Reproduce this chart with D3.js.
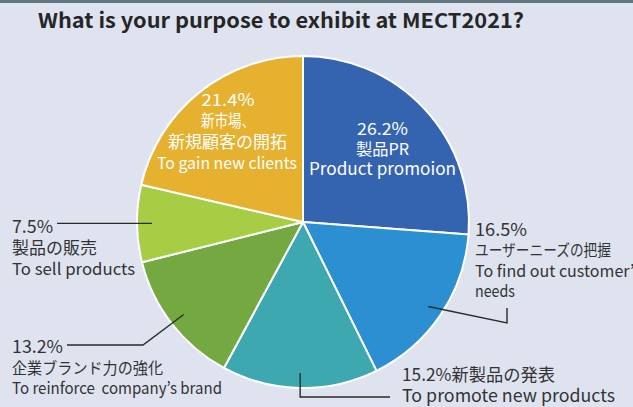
<!DOCTYPE html>
<html><head><meta charset="utf-8">
<script src="https://cdn.jsdelivr.net/npm/d3@7"></script>
<style>
html,body{margin:0;padding:0;background:#dfe3f0;}
svg{display:block;}
text{font-family:"Noto Sans CJK JP","Noto Sans",sans-serif;white-space:pre;}
</style></head>
<body><svg id="c" width="633" height="407"></svg>
<script>
const title = "What is your purpose to exhibit at MECT2021?";
const categories = ["製品PR","ユーザーニーズの把握","新製品の発表","企業ブランド力の強化","製品の販売","新市場、新規顧客の開拓"];
const values = [26.2, 16.5, 15.2, 13.2, 7.5, 21.4];
const englishLabels = ["Product promoion","To find out customer’s needs","To promote new products","To reinforce  company’s brand","To sell products","To gain new clients"];
const colors = ["#3464b0","#2b8fd1","#3ea8b1","#74a942","#a7cd45","#e6b12e"];

const svg = d3.select("#c");
const W = 633, H = 407;
svg.append("rect").attr("width",W).attr("height",H).attr("fill","#dfe3f0");
svg.append("rect").attr("width",W).attr("height",3).attr("fill","#5f7580");

svg.append("text").attr("x",38).attr("y",28)
  .attr("font-size",20.5).attr("font-weight",700).attr("fill","#262626")
  .attr("textLength",486).attr("lengthAdjust","spacingAndGlyphs")
  .text(title);

const cx = 303, cy = 222, R = 166;
const g = svg.append("g").attr("transform",`translate(${cx},${cy})`);
const pie = d3.pie().sort(null).value(d=>d)(values);
const arc = d3.arc().innerRadius(0).outerRadius(R);
g.selectAll("path").data(pie).join("path")
  .attr("d",arc).attr("fill",(d,i)=>colors[i])
  .attr("stroke","#fff").attr("stroke-width",2).attr("stroke-linejoin","round");

const fmt = v => d3.format(".1f")(v) + "%";
const mid = d => (d.startAngle + d.endAngle)/2;
const pt = (d, r) => [Math.sin(mid(d))*r, -Math.cos(mid(d))*r];

function put(parent, s, x, y, size, width, anchor, fill){
  const t = parent.append("text").attr("x",x).attr("y",y)
    .attr("font-size",size).attr("fill",fill)
    .attr("text-anchor",anchor||"start").text(s);
  if (width) t.attr("textLength",width).attr("lengthAdjust","spacingAndGlyphs");
  return t;
}
const WHITE = "#ffffff", DARK = "#333333";

// inside labels (slice 0 and 5)
put(svg, fmt(values[0]), 382.5, 135, 17, 51, "middle", WHITE);
put(svg, categories[0], 382.5, 155, 16, 53, "middle", WHITE);
put(svg, englishLabels[0], 382.5, 175, 17, 147, "middle", WHITE);

put(svg, fmt(values[5]), 228, 106, 17, 53, "middle", WHITE);
put(svg, categories[5].slice(0,4), 201, 127, 16.5, 54, "start", WHITE);
put(svg, categories[5].slice(4), 227.5, 148, 16.5, 119, "middle", WHITE);
put(svg, englishLabels[5], 227, 169, 16.5, 140, "middle", WHITE);

// outside labels
put(svg, fmt(values[1]), 475, 236, 17.5, 52, "start", DARK);
put(svg, categories[1], 475, 256, 15.5, 136, "start", DARK);
put(svg, "To find out customer’s", 475, 277, 16.5, 166, "start", DARK);
put(svg, "needs", 475, 297, 16.5, 40, "start", DARK);

put(svg, fmt(values[2]) + categories[2], 402, 381, 17.5, 153, "start", DARK);
put(svg, englishLabels[2], 402, 402, 17.5, 213, "start", DARK);

put(svg, fmt(values[3]), 12, 353, 17.5, 51, "start", DARK);
put(svg, categories[3], 12, 374, 15.5, 151, "start", DARK);
put(svg, englishLabels[3], 12, 394, 16.5, 210, "start", DARK);

put(svg, fmt(values[4]), 12, 233, 17.5, 41, "start", DARK);
put(svg, categories[4], 12, 254, 16.5, 85, "start", DARK);
put(svg, englishLabels[4], 12, 275, 16.5, 123, "start", DARK);

// leader lines, starting on each slice's mid-angle
const line = d3.line();
const leaders = [
  {i:1, pts: s => [s, [204, 101], [204, 86]]},
  {i:2, pts: s => [s, [s[0], 175], [87, 175]]},
  {i:3, pts: s => [s, [-160, 123], [-236, 123]]},
  {i:4, pts: s => [s, [-246, s[1]]]}
];
leaders.forEach(L=>{
  const s = pt(pie[L.i], 151);
  g.append("path").attr("d", line(L.pts(s))).attr("fill","none")
   .attr("stroke","#2a2a2a").attr("stroke-width",1.4);
});
</script></body></html>
